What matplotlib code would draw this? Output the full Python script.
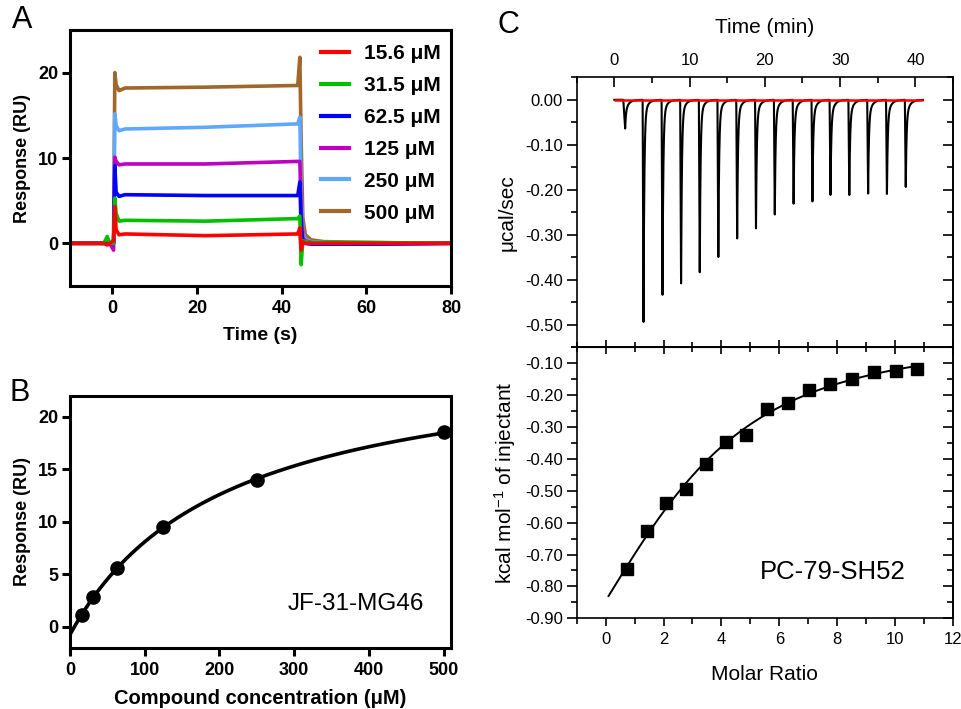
import numpy as np
import matplotlib
matplotlib.use('Agg')
import matplotlib.pyplot as plt
from matplotlib.ticker import MultipleLocator

plt.rcParams['font.family'] = ['Liberation Sans', 'DejaVu Sans']
plt.rcParams['mathtext.fontset'] = 'custom'
plt.rcParams['mathtext.rm'] = 'Liberation Sans'
plt.rcParams['mathtext.it'] = 'Liberation Sans:italic'

# ---- Panel A: SPR sensorgrams (keypoints)
conc_labels = ['15.6 μM', '31.5 μM', '62.5 μM', '125 μM', '250 μM', '500 μM']
trace_colors = ['#ff0000', '#00c000', '#0000ff', '#c000c0', '#5ea8ff', '#a0662a']
t_sgram = [-10, -2, -1.2, -0.6, 0.3, 0.6, 0.9, 1.6, 3, 22, 43.8, 44.3, 44.6, 45.0, 45.6, 47, 50, 60, 80]
resp_15 = [0, 0, -0.2, 0, 0.3, 4.3, 1.6, 1.0, 1.1, 0.9, 1.1, 1.8, -0.8, 0.2, 0, 0, 0, 0, 0]
resp_31 = [0, 0, 0.8, 0, 0, 5.3, 3.5, 2.6, 2.7, 2.6, 2.9, 3.2, -2.5, 0.3, 0.2, 0.1, 0.1, 0.1, 0]
resp_62 = [0, 0, 0, 0, 0, 9.1, 6.0, 5.5, 5.7, 5.6, 5.6, 7.2, 2.0, 0.2, 0, -0.1, -0.1, -0.1, 0]
resp_125 = [0, 0, 0, 0, -0.8, 10.1, 9.6, 9.2, 9.3, 9.3, 9.6, 9.6, 4.0, 0.6, 0.3, 0.1, 0, -0.1, 0]
resp_250 = [0, 0, 0, 0, 0, 15.2, 13.8, 13.2, 13.4, 13.6, 14.0, 14.8, 6.0, 1.2, 0.5, 0.2, 0.1, 0, 0]
resp_500 = [0, 0, 0, 0, 0, 20.0, 18.6, 17.9, 18.2, 18.3, 18.5, 21.8, 12.0, 3.0, 1.0, 0.4, 0.2, 0.1, 0]
traces = [resp_15, resp_31, resp_62, resp_125, resp_250, resp_500]

# ---- Panel B: steady-state responses
b_conc = [15.6, 31.5, 62.5, 125, 250, 500]
b_resp = [1.1, 2.9, 5.6, 9.5, 14.0, 18.5]

# ---- Panel C: ITC
inj_time = [1.19, 3.76, 6.28, 8.75, 11.23, 13.7, 16.2, 18.7, 21.2, 23.7, 26.2, 28.6, 31.1, 33.6, 36.1, 38.6]
inj_peak = [0.064, 0.494, 0.441, 0.417, 0.389, 0.353, 0.308, 0.289, 0.260, 0.233, 0.226, 0.213,
            0.212, 0.211, 0.213, 0.195]
molar_ratio = [0.74, 1.42, 2.08, 2.77, 3.45, 4.15, 4.85, 5.58, 6.29, 7.01, 7.76, 8.50, 9.26, 10.02, 10.77]
heat_per_inj = [-0.746, -0.627, -0.539, -0.494, -0.416, -0.348, -0.324, -0.244, -0.224, -0.183,
                -0.166, -0.151, -0.129, -0.124, -0.119]

fig = plt.figure(figsize=(9.61, 7.09), dpi=100)

# ================= A =================
axA = fig.add_axes([0.0728, 0.5966, 0.3965, 0.3611])
for i in range(len(traces) - 1, -1, -1):
    axA.plot(t_sgram, traces[i], color=trace_colors[i], lw=2.6, label=conc_labels[i])
axA.set_xlim(-10, 80)
axA.set_ylim(-5, 25)
axA.set_xticks([0, 20, 40, 60, 80])
axA.set_yticks([0, 10, 20])
axA.set_xlabel('Time (s)', fontsize=14, fontweight='bold', labelpad=7)
axA.set_ylabel('Response (RU)', fontsize=13, fontweight='bold', labelpad=5)
h, l = axA.get_legend_handles_labels()
leg = axA.legend(h[::-1], l[::-1], loc='upper left', bbox_to_anchor=(0.66, 0.945), frameon=False,
                 prop={'weight': 'bold', 'size': 15}, handlelength=1.3, handletextpad=0.75,
                 labelspacing=0.62, borderpad=0, borderaxespad=0)
for lh in leg.get_lines():
    lh.set_linewidth(3)

# ================= B =================
axB = fig.add_axes([0.0728, 0.0860, 0.3965, 0.3559])
# Langmuir fit: grid over KD, linear least squares for Rmax and offset
bx = np.array(b_conc)
by = np.array(b_resp)
best = None
for kd in np.linspace(20, 800, 1561):
    A = np.column_stack([bx / (kd + bx), np.ones_like(bx)])
    coef, res, _, _ = np.linalg.lstsq(A, by, rcond=None)
    err = np.sum((A @ coef - by) ** 2)
    if best is None or err < best[0]:
        best = (err, kd, coef)
_, kd_fit, (rmax_fit, off_fit) = best
xc = np.linspace(0, 500, 400)
axB.plot(xc, rmax_fit * xc / (kd_fit + xc) + off_fit, color='k', lw=2.6)
axB.plot(b_conc, b_resp, 'o', color='k', ms=9.5)
axB.set_xlim(0, 510)
axB.set_ylim(-2, 22)
axB.set_xticks([0, 100, 200, 300, 400, 500])
axB.set_yticks([0, 5, 10, 15, 20])
axB.set_xlabel('Compound concentration (μM)', fontsize=14.5, fontweight='bold', labelpad=7)
axB.set_ylabel('Response (RU)', fontsize=13, fontweight='bold', labelpad=5)
axB.text(383, 2.2, 'JF-31-MG46', fontsize=17.5, ha='center', va='center')

for ax in (axA, axB):
    for s in ax.spines.values():
        s.set_linewidth(2.2)
    ax.tick_params(direction='out', length=5.5, width=2.2, labelsize=13, pad=3)
    ax.tick_params(axis='x', pad=4.5)
    for lab in ax.get_xticklabels() + ax.get_yticklabels():
        lab.set_fontweight('bold')

# ================= C (top) =================
axC1 = fig.add_axes([0.6001, 0.5102, 0.3916, 0.3808])
t_itc = np.linspace(0, 41, 8000)
heat = np.zeros_like(t_itc)
for ti, d in zip(inj_time, inj_peak):
    dt = t_itc - ti
    rise = 0.12 if d > 0.1 else 0.25
    slow = min(0.04, 0.4 * d)
    fast = d - slow
    seg = np.where(dt < 0, 0.0,
                   np.where(dt < rise, -d * dt / rise,
                            -fast * np.exp(-(dt - rise) / 0.1) - slow * np.exp(-(dt - rise) / 0.45)))
    heat += seg
axC1.plot(t_itc, heat, color='k', lw=1.5)
axC1.hlines(0, t_itc[0], t_itc[-1], color='#ff0000', lw=1.8, zorder=3)
axC1.set_xlim(-5, 45)
axC1.set_ylim(-0.55, 0.05)
axC1.xaxis.set_ticks_position('top')
axC1.xaxis.set_label_position('top')
axC1.set_xticks([0, 10, 20, 30, 40])
axC1.xaxis.set_minor_locator(MultipleLocator(5))
axC1.set_yticks([0, -0.1, -0.2, -0.3, -0.4, -0.5])
axC1.set_yticklabels(['0.00', '-0.10', '-0.20', '-0.30', '-0.40', '-0.50'])
axC1.yaxis.set_minor_locator(MultipleLocator(0.05))
axC1.set_xlabel('Time (min)', fontsize=15, labelpad=14)
axC1.set_ylabel('μcal/sec', fontsize=15, labelpad=6)
axC1.tick_params(axis='x', which='both', direction='in', top=True, bottom=False, labelsize=12, pad=7)
axC1.tick_params(axis='x', which='major', length=7, width=1.2)
axC1.tick_params(axis='x', which='minor', length=4, width=1.2)
axC1.tick_params(axis='y', which='both', direction='out', left=True, right=False, labelsize=12, pad=3)
axC1.tick_params(axis='y', which='major', length=7, width=1.2)
axC1.tick_params(axis='y', which='minor', length=4, width=1.2)
sec1 = axC1.secondary_yaxis('right')
sec1.set_yticks([0, -0.1, -0.2, -0.3, -0.4, -0.5])
sec1.yaxis.set_minor_locator(MultipleLocator(0.05))
sec1.tick_params(which='both', direction='in', labelright=False, width=1.2)
sec1.tick_params(which='major', length=7)
sec1.tick_params(which='minor', length=4)
sec1.spines['right'].set_linewidth(1.2)

# ================= C (bottom) =================
axC2 = fig.add_axes([0.6001, 0.1279, 0.3916, 0.3823])
# one-site (Wiseman) isotherm fitted on a grid; dH and offset by least squares
mx = np.array(molar_ratio)
my = np.array(heat_per_inj)


def wiseman(x, n, r):
    xr = x / n
    return 0.5 + (1 - xr - r) / (2 * np.sqrt((1 + xr + r) ** 2 - 4 * xr))


best = None
for n in np.linspace(0.3, 8, 155):
    for r in np.logspace(-2, 1.3, 120):
        f = wiseman(mx, n, r)
        A = np.column_stack([f, np.ones_like(f)])
        coef, _, _, _ = np.linalg.lstsq(A, my, rcond=None)
        err = np.sum((A @ coef - my) ** 2)
        if best is None or err < best[0]:
            best = (err, n, r, coef)
_, n_fit, r_fit, (dh_fit, c_fit) = best
xf = np.linspace(0.1, 10.9, 300)
axC2.plot(xf, dh_fit * wiseman(xf, n_fit, r_fit) + c_fit, color='k', lw=1.4)
axC2.plot(molar_ratio, heat_per_inj, 's', color='k', ms=8.5)
axC2.set_xlim(-1, 12)
axC2.set_ylim(-0.9, -0.05)
axC2.set_xticks([0, 2, 4, 6, 8, 10, 12])
axC2.xaxis.set_minor_locator(MultipleLocator(1))
yt = [-0.1, -0.2, -0.3, -0.4, -0.5, -0.6, -0.7, -0.8, -0.9]
axC2.set_yticks(yt)
axC2.set_yticklabels(['%.2f' % v for v in yt])
axC2.yaxis.set_minor_locator(MultipleLocator(0.05))
axC2.set_xlabel('Molar Ratio', fontsize=15, labelpad=13)
axC2.set_ylabel('kcal mol$^{-1}$ of injectant', fontsize=15, labelpad=5)
axC2.text(7.84, -0.754, 'PC-79-SH52', fontsize=18.5, ha='center', va='center')
axC2.tick_params(axis='x', which='both', direction='out', labelsize=12, pad=4, width=1.2)
axC2.tick_params(axis='x', which='major', length=6)
axC2.tick_params(axis='x', which='minor', length=4)
axC2.tick_params(axis='y', which='both', direction='out', labelsize=12, pad=3, width=1.2)
axC2.tick_params(axis='y', which='major', length=7)
axC2.tick_params(axis='y', which='minor', length=4)
sec2 = axC2.secondary_yaxis('right')
sec2.set_yticks(yt)
sec2.yaxis.set_minor_locator(MultipleLocator(0.05))
sec2.tick_params(which='both', direction='in', labelright=False, width=1.2)
sec2.tick_params(which='major', length=7)
sec2.tick_params(which='minor', length=4)
sec2.spines['right'].set_linewidth(1.2)
sec3 = axC2.secondary_xaxis('top')
sec3.set_xticks([0, 2, 4, 6, 8, 10, 12])
sec3.xaxis.set_minor_locator(MultipleLocator(1))
sec3.tick_params(which='both', direction='inout', labeltop=False, width=1.2)
sec3.tick_params(which='major', length=10)
sec3.tick_params(which='minor', length=7)

for ax in (axC1, axC2):
    for s in ax.spines.values():
        s.set_linewidth(1.2)

fig.text(22 / 961, 1 - 20 / 709, 'A', fontsize=22, ha='center', va='center')
fig.text(20 / 961, 1 - 393 / 709, 'B', fontsize=22, ha='center', va='center')
fig.text(508 / 961, 1 - 25 / 709, 'C', fontsize=22, ha='center', va='center')

fig.savefig('out.png', dpi=100)
